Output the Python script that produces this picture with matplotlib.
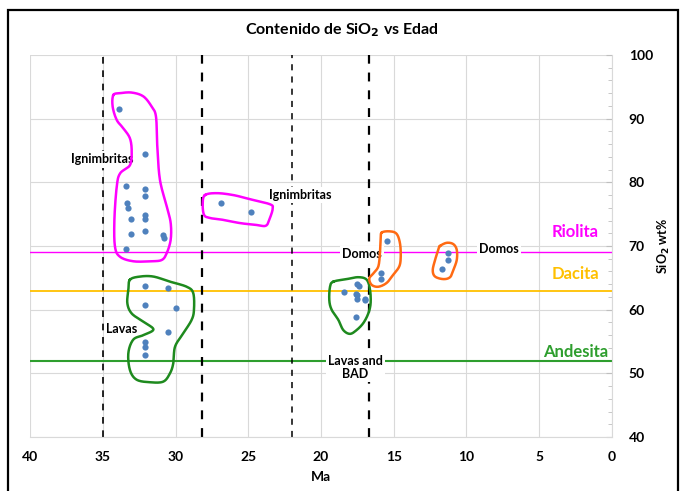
import numpy as np
import matplotlib
matplotlib.use("Agg")
import matplotlib.pyplot as plt
from matplotlib.patches import Rectangle

plt.rcParams['font.family'] = ['Lato', 'DejaVu Sans']
plt.rcParams['font.weight'] = 'bold'

# ---- data ----
ign1_ma = [33.9, 32.1, 33.4, 32.1, 32.1, 33.3, 33.25, 33.05, 32.1, 32.1, 33.05, 32.1, 30.85, 30.8, 33.4]
ign1_si = [91.5, 84.5, 79.5, 78.9, 77.8, 76.8, 76.0, 74.3, 74.9, 74.3, 71.9, 72.4, 71.8, 71.2, 69.6]
ign2_ma = [26.9, 24.8]
ign2_si = [76.8, 75.3]
lav1_ma = [32.1, 30.5, 32.1, 30.0, 30.5, 32.1, 32.1, 32.1]
lav1_si = [63.7, 63.4, 60.8, 60.2, 56.5, 55.0, 54.2, 52.9]
lav2_ma = [18.45, 17.5, 17.4, 17.6, 17.5, 17.55, 17.0, 17.0, 17.6]
lav2_si = [62.8, 64.0, 63.7, 62.5, 62.3, 61.7, 61.7, 61.5, 58.8]
dom1_ma = [15.45, 15.9, 15.9]
dom1_si = [70.8, 65.8, 64.8]
dom2_ma = [11.25, 11.25, 11.65]
dom2_si = [68.9, 67.8, 66.4]

age_limits = [35.0, 28.2, 22.0, 16.7]
classes = ["Riolita", "Dacita", "Andesita"]
class_si = [69.0, 63.0, 52.0]

# ---- outline shapes (hand-drawn groupings) ----
ol_ign1 = ([34.27, 33.81, 33.01, 32.21, 31.64, 31.34, 31.25, 31.07, 30.6, 30.33, 30.33, 30.6, 30.95, 31.75,
            32.9, 33.81, 34.16, 34.2, 34.04, 33.81, 33.13, 33.01, 33.13, 33.59, 34.04, 34.32],
           [93.7, 94.0, 94.1, 93.5, 91.9, 90.3, 85.6, 80.4, 76.2, 73.6, 71.0, 68.9, 67.8, 67.6,
            67.6, 68.3, 69.9, 74.1, 79.3, 81.4, 82.7, 84.8, 86.9, 88.5, 89.8, 91.9])
ol_ign2 = ([27.97, 27.17, 26.03, 24.88, 23.51, 23.32, 23.51, 23.78, 24.42, 25.57, 26.71, 27.63, 28.04, 28.13],
           [78.0, 78.3, 78.0, 77.35, 76.56, 75.9, 74.4, 73.2, 73.3, 73.6, 74.1, 74.4, 74.9, 76.7])
ol_lav1 = ([33.13, 32.44, 31.52, 30.38, 29.23, 28.78, 28.73, 28.89, 29.46, 30.03, 30.15, 30.38, 30.84, 31.75,
            32.67, 33.13, 33.24, 32.9, 32.21, 31.52, 32.21, 33.01, 33.31, 33.24],
           [64.7, 65.2, 65.2, 64.4, 63.6, 62.6, 60.0, 58.4, 56.3, 54.2, 51.6, 50.0, 48.7, 48.6,
            49.0, 50.5, 53.2, 55.3, 56.0, 56.9, 58.1, 59.4, 61.0, 63.1])
ol_lav2 = ([19.15, 18.23, 17.43, 16.86, 16.63, 16.59, 16.75, 17.09, 17.55, 18.01, 18.47, 18.81, 19.27, 19.43, 19.38],
           [64.4, 64.8, 65.1, 64.7, 63.1, 61.0, 59.4, 57.9, 56.8, 56.2, 56.8, 58.4, 60.0, 61.5, 63.6])
ol_dom1 = ([15.83, 15.26, 14.8, 14.57, 14.52, 14.62, 15.03, 15.49, 16.06, 16.52, 16.68, 16.4, 16.06, 15.95, 15.9],
           [72.1, 72.3, 71.9, 70.4, 68.3, 66.8, 65.5, 64.2, 63.6, 63.9, 64.9, 65.7, 66.8, 68.9, 71.0])
ol_dom2 = ([11.82, 11.36, 10.91, 10.67, 10.67, 10.91, 11.13, 11.59, 12.16, 12.32, 12.16, 11.94],
           [70.0, 70.5, 70.3, 69.4, 67.8, 66.2, 65.1, 64.8, 65.2, 66.2, 67.8, 69.4])


def smooth_closed(xs, ys, n=16):
    P = np.column_stack([xs, ys])
    m = len(P)
    out = []
    t = np.linspace(0, 1, n, endpoint=False)[:, None]
    for i in range(m):
        p0, p1, p2, p3 = P[i - 1], P[i], P[(i + 1) % m], P[(i + 2) % m]
        seg = 0.5 * ((2 * p1) + (-p0 + p2) * t + (2 * p0 - 5 * p1 + 4 * p2 - p3) * t ** 2
                     + (-p0 + 3 * p1 - 3 * p2 + p3) * t ** 3)
        out.append(seg)
    out = np.vstack(out + [P[:1]])
    return out[:, 0], out[:, 1]


fig = plt.figure(figsize=(6.83, 4.91), dpi=100)
ax = fig.add_axes([30 / 683, 1 - 437 / 491, (612 - 30) / 683, (437 - 55) / 491])

ax.set_xlim(40, 0)
ax.set_ylim(40, 100)
ax.set_xticks(np.arange(40, -1, -5))
ax.set_yticks(np.arange(40, 101, 10))
ax.set_yticks(np.arange(40, 101, 2), minor=True)
ax.yaxis.tick_right()
ax.yaxis.set_label_position("right")
ax.grid(True, which='major', color='#D9D9D9', lw=0.8)
ax.set_axisbelow(True)
for s in ['top', 'left']:
    ax.spines[s].set_visible(False)
for s in ['bottom', 'right']:
    ax.spines[s].set_color('#D9D9D9')
ax.tick_params(axis='x', length=0, labelsize=10, pad=10)
ax.tick_params(axis='y', which='major', direction='in', length=4, color='#BFBFBF', labelsize=10, pad=12)
ax.tick_params(axis='y', which='minor', direction='in', length=3, color='#BFBFBF')
for lbl in ax.get_xticklabels() + ax.get_yticklabels():
    lbl.set_fontweight('bold')
ax.set_xlabel("Ma", fontsize=10, fontweight='bold', labelpad=6)
ax.set_ylabel("SiO$_2$ wt%", fontsize=9, fontweight='bold', labelpad=2)

# classification lines
class_colors = ['#FF00FF', '#FFC000', '#2E9E2E']
class_lw = [1.0, 1.3, 1.5]
for v, c, lw in zip(class_si, class_colors, class_lw):
    ax.axhline(v, color=c, lw=lw, zorder=2)
# age limits
age_lw = [1.2, 1.6, 1.1, 1.6]
for a, lw in zip(age_limits, age_lw):
    ax.axvline(a, color='black', ls=(0, (4, 4)), lw=lw, zorder=2)

# outlines
for ol, c in [(ol_ign1, '#FF00FF'), (ol_ign2, '#FF00FF'), (ol_lav1, '#1E8A1E'),
              (ol_lav2, '#1E8A1E'), (ol_dom1, '#FF6A13'), (ol_dom2, '#FF6A13')]:
    sx, sy = smooth_closed(*ol)
    ax.plot(sx, sy, color=c, lw=1.8, zorder=3)

# points
pc = '#4F81BD'
for mx, sy in [(ign1_ma, ign1_si), (ign2_ma, ign2_si), (lav1_ma, lav1_si),
               (lav2_ma, lav2_si), (dom1_ma, dom1_si), (dom2_ma, dom2_si)]:
    ax.scatter(mx, sy, s=20, color=pc, zorder=5, linewidths=0)

# labels
fs = 9
tz = 2.5
bbox = dict(facecolor='white', edgecolor='none', pad=1.5)
ax.text(35.05, 83.6, "Ignimbritas", ha='center', va='center', fontsize=fs, fontweight='bold', bbox=bbox, zorder=tz)
ax.text(21.4, 78.0, "Ignimbritas", ha='center', va='center', fontsize=fs, fontweight='bold', bbox=bbox, zorder=tz)
ax.text(33.7, 57.0, "Lavas", ha='center', va='center', fontsize=fs, fontweight='bold', bbox=bbox, zorder=tz)
ax.text(17.2, 68.7, "Domos", ha='center', va='center', fontsize=fs, fontweight='bold', bbox=bbox, zorder=tz)
ax.text(7.8, 69.5, "Domos", ha='center', va='center', fontsize=fs, fontweight='bold', bbox=bbox, zorder=tz)
ax.text(17.65, 50.9, "Lavas and\nBAD", ha='center', va='center', fontsize=fs, fontweight='bold',
        bbox=bbox, zorder=tz, linespacing=1.1)
class_text_y = [72.2, 65.6, 53.3]
for name, yv, c in zip(classes, class_text_y, class_colors):
    ax.text(2.5, yv, name, ha='center', va='center', fontsize=12, fontweight='bold', color=c, zorder=4)

fig.text(0.5, 1 - 30 / 491, "Contenido de SiO$_2$ vs Edad", ha='center', va='center',
         fontsize=11.5, fontweight='bold')

# outer frame
fig.patches.append(Rectangle((8 / 683, -0.05), (678 - 8) / 683, 1.05 - 10 / 491,
                             transform=fig.transFigure, fill=False, edgecolor='black', lw=1.6))

fig.savefig("out.png", dpi=100)
